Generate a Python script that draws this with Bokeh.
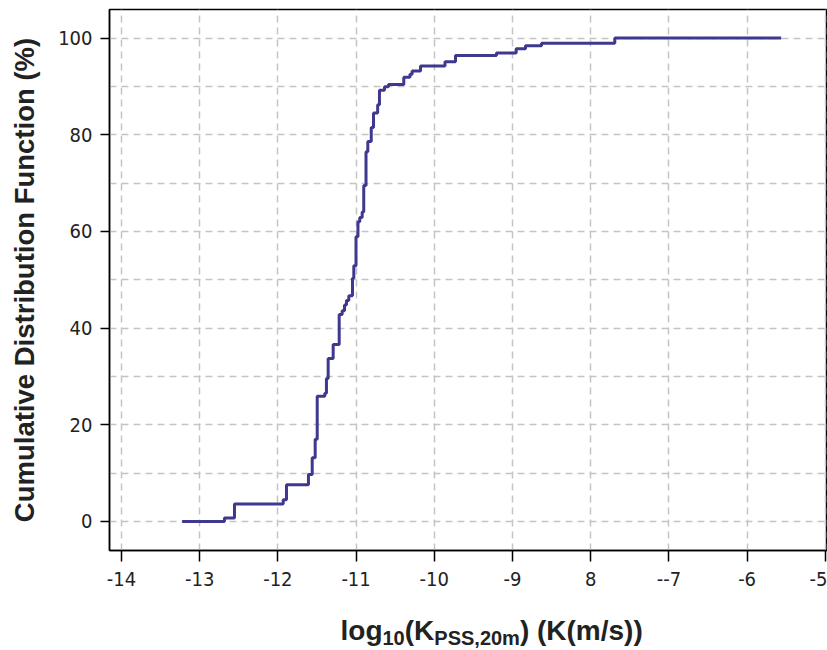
from bokeh.plotting import figure
from bokeh.layouts import column
from bokeh.models import FixedTicker, Label, Range1d
from bokeh.embed import file_html
from bokeh.resources import INLINE

# ---- data ----
log_k = [-13.224, -12.683, -12.555, -11.932, -11.890, -11.609, -11.561, -11.523,
         -11.497, -11.400, -11.379, -11.357, -11.293, -11.216, -11.178, -11.148,
         -11.123, -11.093, -11.046, -11.029, -11.001, -10.976, -10.953, -10.922,
         -10.902, -10.873, -10.850, -10.806, -10.777, -10.724, -10.701, -10.637,
         -10.586, -10.390, -10.311, -10.283, -10.176, -9.863, -9.729, -9.205,
         -8.953, -8.834, -8.629, -7.692, -5.564]
cdf_pct = [0.0, 0.7, 3.6, 4.5, 7.6, 9.7, 13.2, 17.0,
           25.9, 26.5, 29.6, 33.7, 36.6, 42.8, 43.6, 44.8,
           45.7, 46.7, 50.3, 52.9, 58.9, 62.0, 62.9, 64.0,
           69.5, 76.5, 78.6, 81.5, 84.5, 86.2, 89.2, 89.9,
           90.4, 91.9, 92.5, 93.2, 94.2, 95.1, 96.4, 96.9,
           97.8, 98.4, 98.9, 100.0, 100.0]
x_ticks = [-14, -13, -12, -11, -10, -9, -8, -7, -6, -5]
x_tick_labels = ["-14", "-13", "-12", "-11", "-10", "-9", "8", "--7", "-6", "-5"]
y_ticks = [0, 20, 40, 60, 80, 100]
y_grid = [0, 10, 20, 30, 40, 50, 60, 70, 80, 90, 100]
y_title = "Cumulative Distribution Function (%)"
x_title_parts = ["log", "10", "(K", "PSS,20m", ") (K(m/s))"]

TICK_FONT = "DejaVu Sans Condensed, DejaVu Sans, sans-serif"
TITLE_FONT = "Liberation Sans"
TXT = "#222222"
GRID = "#c4c4c4"

p = figure(width=827, height=605, output_backend="svg", toolbar_location=None,
           x_range=Range1d(-14.153, -4.972), y_range=Range1d(-6.0, 105.9),
           min_border_left=109, min_border_right=0, min_border_top=9,
           min_border_bottom=55)
p.background_fill_color = "white"
p.border_fill_color = "white"
p.outline_line_color = "black"
p.outline_line_width = 1.5

p.step(log_k, cdf_pct, mode="after", line_color="#3f388f", line_width=3)

# axes
for ax in (p.xaxis[0], p.yaxis[0]):
    ax.axis_line_color = "black"
    ax.axis_line_width = 1.5
    ax.major_tick_line_color = "black"
    ax.major_tick_line_width = 1.5
    ax.major_tick_in = 0
    ax.minor_tick_line_color = None
    ax.major_label_text_font = TICK_FONT
    ax.major_label_text_font_size = "20px"
    ax.major_label_text_color = TXT

p.xaxis.ticker = FixedTicker(ticks=x_ticks)
p.xaxis.major_label_overrides = {t: l for t, l in zip(x_ticks, x_tick_labels)}
p.xaxis.major_tick_out = 11
p.xaxis.major_label_standoff = 10
p.yaxis.ticker = FixedTicker(ticks=y_ticks)
p.yaxis.major_tick_out = 9
p.yaxis.major_label_standoff = 8
p.yaxis.axis_label = y_title
p.yaxis.axis_label_text_font = TITLE_FONT
p.yaxis.axis_label_text_font_style = "bold"
p.yaxis.axis_label_text_font_size = "27.5px"
p.yaxis.axis_label_text_color = TXT
p.yaxis.axis_label_standoff = 15

# grid
p.xgrid.ticker = FixedTicker(ticks=x_ticks)
p.ygrid.ticker = FixedTicker(ticks=y_grid)
for g in (p.xgrid[0], p.ygrid[0]):
    g.grid_line_color = GRID
    g.grid_line_width = 1.5
    g.grid_line_dash = "7 5"

# x axis title strip (with subscripts); its frame lines up with the plot frame
q = figure(width=827, height=45, output_backend="svg", toolbar_location=None,
           x_range=Range1d(0, 718), y_range=Range1d(0, 45),
           x_axis_type=None, y_axis_type=None,
           min_border_left=109, min_border_right=0, min_border_top=0,
           min_border_bottom=0)
q.grid.visible = False
q.outline_line_color = None
q.background_fill_color = "white"
q.border_fill_color = "white"

sizes = ["28px", "20px", "28px", "20px", "28px"]
xs = [231, 273, 295.2, 324.8, 410.4]
ys = [20, 13, 20, 13, 20]
for txt, sx, sy, fs in zip(x_title_parts, xs, ys, sizes):
    q.add_layout(Label(x=sx, y=sy, x_units="screen", y_units="screen", text=txt,
                       text_align="left", text_baseline="alphabetic",
                       text_font=TITLE_FONT, text_font_style="bold",
                       text_font_size=fs, text_color=TXT))

layout = column(p, q, spacing=0)
open("out.html", "w").write(file_html(layout, INLINE))
